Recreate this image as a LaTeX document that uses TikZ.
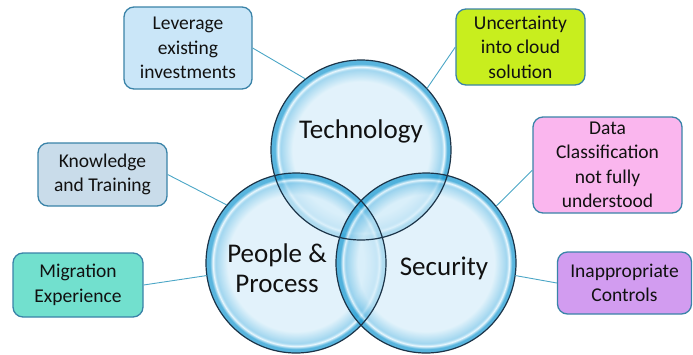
\documentclass[tikz,border=0pt]{standalone}
\usepackage{fontspec}
\setmainfont{Carlito}
\definecolor{bubC}{RGB}{213,237,249}
\definecolor{bubM}{RGB}{120,196,232}
\definecolor{bubH}{RGB}{225,244,253}
\definecolor{bubE}{RGB}{19,150,208}
\definecolor{levf}{HTML}{CAE6F8}
\definecolor{uncf}{HTML}{C8EE1E}
\definecolor{dataf}{HTML}{FAB6EE}
\definecolor{knowf}{HTML}{C9DCEA}
\definecolor{migf}{HTML}{72E0CE}
\definecolor{inapf}{HTML}{D29CF0}
\definecolor{boxline}{HTML}{3A83A8}
\definecolor{linkc}{HTML}{4BA6C6}
\definecolor{outlc}{HTML}{1C3448}
\definecolor{txt}{HTML}{111111}
\pgfdeclareradialshading{bubble}{\pgfpoint{0bp}{0bp}}{color(0bp)=(bubC); color(19bp)=(bubC); color(22.4bp)=(bubM); color(23.1bp)=(bubH); color(23.9bp)=(bubE); color(25bp)=(bubE); color(50bp)=(bubE)}
\begin{document}
\begin{tikzpicture}[x=1pt,y=-1pt,
  box/.style={draw=boxline, line width=1.3pt, rounded corners=10pt, align=center,
    font=\fontsize{19.5}{24.5}\selectfont, text=txt, inner sep=0pt},
  link/.style={draw=linkc, line width=0.9pt},
  bub/.style={circle, minimum size=180pt, inner sep=0pt},
  outl/.style={draw=outlc, line width=1.2pt},
  lab/.style={align=center, font=\fontsize{27}{30}\selectfont, text=txt}]
\useasboundingbox (0,0) rectangle (693,354);
\node[bub] (tech) at (361,150) {};
\node[bub] (ppl) at (296,263) {};
\node[bub] (sec) at (426,263) {};
\foreach \n in {tech,ppl,sec}
  \shade[shading=bubble, fill opacity=0.7] (\n.center) circle[radius=90pt];
\foreach \n in {tech,ppl,sec}
  \draw[outl] (\n.center) circle[radius=90pt];
\node[lab] (techl) at (361,131) {Technology};
\node[lab] (ppll) at (277,268) {People \&\\Process};
\node[lab] (secl) at (444,268) {Security};
\node[box, fill=levf, minimum width=128pt, minimum height=82pt] (lev) at (188,48) {Leverage\\existing\\investments};
\node[box, fill=uncf, minimum width=129pt, minimum height=76pt] (unc) at (520.5,47) {Uncertainty\\into cloud\\solution};
\node[box, fill=dataf, minimum width=149pt, minimum height=96pt] (data) at (607.5,165) {Data\\Classification\\not fully\\understood};
\node[box, fill=knowf, minimum width=129pt, minimum height=63pt] (know) at (102.5,174.5) {Knowledge\\and Training};
\node[box, fill=migf, minimum width=130pt, minimum height=64pt] (mig) at (78,285) {Migration\\Experience};
\node[box, fill=inapf, minimum width=134pt, minimum height=62pt] (inap) at (624.5,283) {Inappropriate\\Controls};
\draw[link] (lev.east) -- (tech.128);
\draw[link] (unc.west) -- (tech.43);
\draw[link] (data.184) -- (sec.39);
\draw[link] (know.east) -- (ppl.140);
\draw[link] (mig.east) -- (ppl.188);
\draw[link] (inap.west) -- (sec.352);
\end{tikzpicture}
\end{document}
